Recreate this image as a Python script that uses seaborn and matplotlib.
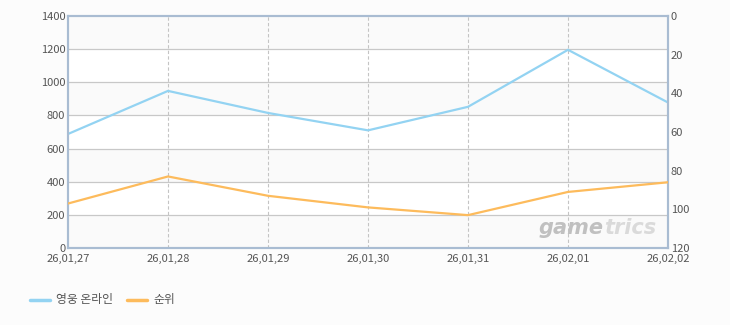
import matplotlib
matplotlib.use("Agg")
import matplotlib.pyplot as plt
import seaborn as sns
import pandas as pd
import numpy as np

dates = ["26,01,27", "26,01,28", "26,01,29", "26,01,30", "26,01,31", "26,02,01", "26,02,02"]
users = [688, 948, 815, 710, 852, 1196, 878]
rank = [97, 83, 93, 99, 103, 91, 86]
left_ticks = [0, 200, 400, 600, 800, 1000, 1200, 1400]
right_ticks = [0, 20, 40, 60, 80, 100, 120]
series_names = ["영웅 온라인", "순위"]

sns.set_style("white")
plt.rcParams['font.family'] = ['Noto Sans CJK KR', 'DejaVu Sans']

blue = "#93d3f2"
orange = "#fdbb5c"
spine_c = "#a9bcd2"
txt_c = "#555555"

fig = plt.figure(figsize=(7.3, 3.25), dpi=100, facecolor="#fcfcfc")
ax = fig.add_axes([68/730, 77/325, 600/730, 232/325])
ax.set_facecolor("#ffffff")

df = pd.DataFrame({"x": np.arange(len(dates)), "users": users, "rank": rank})

# alternating bands
for i in range(len(left_ticks) - 1):
    if i % 2 == 0:
        ax.axhspan(left_ticks[i], left_ticks[i+1], color="#fafafa", zorder=0, lw=0)
for t in left_ticks[1:-1]:
    ax.axhline(t, color="#c8c8c8", lw=0.9, zorder=1)
for i in range(1, len(dates) - 1):
    ax.axvline(i, color="#c4c4c4", lw=0.8, ls=(0, (3, 2)), zorder=1)

sns.lineplot(data=df, x="x", y="users", ax=ax, color=blue, lw=1.6, zorder=3)
ax.set_xlim(0, len(dates) - 1)
ax.set_ylim(0, 1400)
ax.set_yticks(left_ticks)
ax.set_xticks(range(len(dates)))
ax.set_xticklabels(dates)
ax.set_xlabel("")
ax.set_ylabel("")

ax2 = ax.twinx()
sns.lineplot(data=df, x="x", y="rank", ax=ax2, color=orange, lw=1.6, zorder=3)
ax2.set_ylim(120, 0)
ax2.set_yticks(right_ticks)
ax2.set_ylabel("")
ax2.set_xlim(0, len(dates) - 1)

for a in (ax, ax2):
    for s in a.spines.values():
        s.set_color(spine_c)
        s.set_linewidth(1.5)
    a.tick_params(axis="both", length=0, labelsize=8, colors=txt_c, pad=2)
ax.tick_params(axis="x", pad=4)

ax.text(0.893, 0.045, "game", transform=ax.transAxes, ha="right", va="bottom",
        fontsize=15, fontstyle="italic", fontweight="bold", color="#c0c0c0",
        family="DejaVu Sans", zorder=2)
ax.text(0.893, 0.045, "trics", transform=ax.transAxes, ha="left", va="bottom",
        fontsize=15, fontstyle="italic", fontweight="bold", color="#dadada",
        family="DejaVu Sans", zorder=2)

# legend
fig.lines.append(plt.Line2D([30/730, 50/730], [1-300/325]*2, color=blue, lw=2.5, transform=fig.transFigure))
fig.text(56/730, 1-300/325, series_names[0], fontsize=8.5, color=txt_c, va="center")
fig.lines.append(plt.Line2D([127/730, 147/730], [1-300/325]*2, color=orange, lw=2.5, transform=fig.transFigure))
fig.text(153/730, 1-300/325, series_names[1], fontsize=8.5, color=txt_c, va="center")

fig.savefig("out.png", dpi=100, facecolor=fig.get_facecolor())
